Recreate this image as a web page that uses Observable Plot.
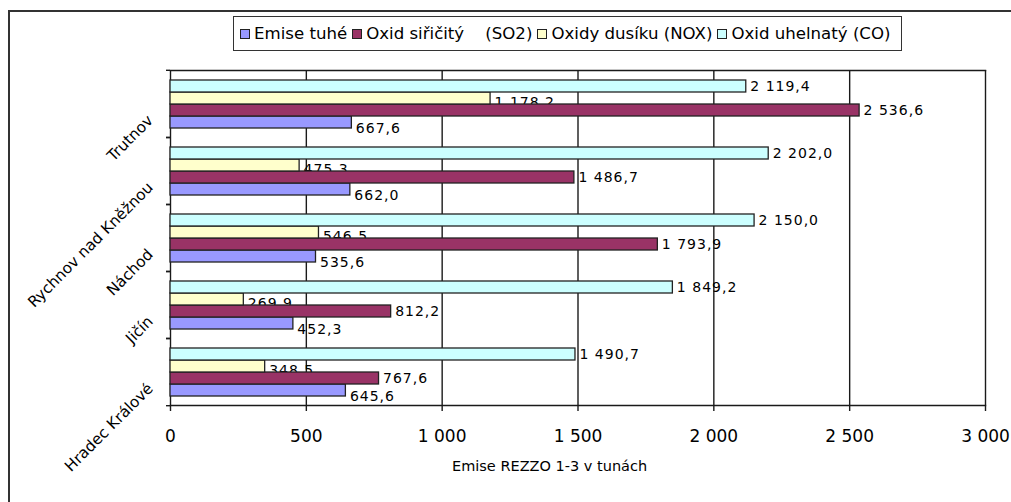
<!DOCTYPE html>
<html>
<head>
<meta charset="utf-8">
<script src="https://cdn.jsdelivr.net/npm/d3@7"></script>
<script src="https://cdn.jsdelivr.net/npm/@observablehq/plot@0.6"></script>
<style>
  html, body { margin: 0; padding: 0; background: #fff; overflow: hidden; }
  #wrap { position: relative; width: 1011px; height: 502px; font-family: "DejaVu Sans", sans-serif; color: #000; }
  #outer { position: absolute; left: 8px; top: 10px; width: 1100px; height: 600px; border-left: 2px solid #333; border-top: 2px solid #333; box-sizing: border-box; }
  #legend { position: absolute; left: 233px; top: 16px; width: 669px; height: 35px; box-sizing: border-box; border: 1.5px solid #333; display: flex; align-items: center; padding-left: 6px; font-size: 16.6px; white-space: pre; background: #fff; }
  .item { display: flex; align-items: center; margin-right: 5px; }
  .sw { width: 8px; height: 8px; border: 1.2px solid #222; margin-right: 4px; }
  #xtitle { position: absolute; left: 452px; top: 458px; font-size: 14.5px; white-space: pre; }
  #chart { position: absolute; left: 0; top: 0; }
  #chart g[aria-label="text"] text { letter-spacing: 1px; }
</style>
</head>
<body>
<div id="wrap">
  <div id="outer"></div>
  <div id="chart"></div>
  <div id="legend"></div>
  <div id="xtitle"></div>
</div>
<script>
// ---- data ----
const categories = ["Trutnov", "Rychnov nad Kněžnou", "Náchod", "Jičín", "Hradec Králové"];
const seriesNames = ["Emise tuhé", "Oxid siřičitý    (SO2)", "Oxidy dusíku (NOX)", "Oxid uhelnatý (CO)"];
const emiseTuhe = [667.6, 662.0, 535.6, 452.3, 645.6];
const oxidSiricity = [2536.6, 1486.7, 1793.9, 812.2, 767.6];
const oxidyDusiku = [1178.2, 475.3, 546.5, 269.9, 348.5];
const oxidUhelnaty = [2119.4, 2202.0, 2150.0, 1849.2, 1490.7];
const xTicks = [0, 500, 1000, 1500, 2000, 2500, 3000];
const xTitle = "Emise REZZO 1-3 v tunách";

// ---- styles ----
const colors = ["#9999FF", "#993366", "#FFFFCC", "#CCFFFF"];
const labelShift = [6, 0, 4, 0]; // vertical nudge of value labels per series

const seriesValues = [emiseTuhe, oxidSiricity, oxidyDusiku, oxidUhelnaty];
const rows = [];
categories.forEach((c, i) => {
  seriesNames.forEach((s, j) => rows.push({category: c, series: s, value: seriesValues[j][i], k: j}));
});

const loc = d3.formatLocale({decimal: ",", thousands: " ", grouping: [3], currency: ["", ""]});
const fmtInt = loc.format(",");
const fmtVal = loc.format(",.1f");

const W = 1011, H = 502, mL = 170, mR = 26, mT = 69, mB = 96;
const half = (H - mT - mB) / categories.length / 2;

const lab = (j) => Plot.text(rows.filter(d => d.k === j), {
  fy: "category", y: "series", x: "value",
  text: d => fmtVal(d.value), textAnchor: "start", dx: 4, dy: labelShift[j],
  fontSize: 14, fill: "#000"
});

const chart = Plot.plot({
  width: W, height: H,
  marginLeft: mL, marginRight: mR, marginTop: mT, marginBottom: mB,
  style: {fontFamily: "DejaVu Sans, sans-serif", background: "transparent", overflow: "visible", color: "#000"},
  x: {domain: [0, 3000]},
  y: {domain: seriesNames.slice().reverse(), paddingInner: 0, paddingOuter: 0.75, axis: null},
  fy: {domain: categories, padding: 0},
  color: {domain: seriesNames, range: colors},
  marks: [
    Plot.ruleX(xTicks, {stroke: "#1a1a1a", strokeWidth: 1.4}),
    Plot.frame({anchor: "top", facetAnchor: "top", stroke: "#1a1a1a", strokeWidth: 1.4}),
    lab(2),
    Plot.barX(rows, {fy: "category", y: "series", x: "value", fill: "series", stroke: "#222", strokeWidth: 1.3}),
    lab(0), lab(1), lab(3),
    Plot.frame({anchor: "bottom", facetAnchor: "bottom", stroke: "#1a1a1a", strokeWidth: 1.4}),
    Plot.axisX({ticks: xTicks, tickFormat: fmtInt, tickSize: 6, tickPadding: 18, fontSize: 17, label: null, stroke: "#1a1a1a", strokeWidth: 1.4}),
    Plot.axisFy({anchor: "left", tickSize: 4, fill: "none", label: null, dy: -half, stroke: "#1a1a1a", strokeWidth: 1.4}),
    Plot.axisFy({anchor: "left", tickSize: 4, fill: "none", label: null, dy: half, stroke: "#1a1a1a", strokeWidth: 1.4}),
    Plot.axisFy({anchor: "left", tickSize: 0, tickRotate: -45, tickPadding: 20, fontSize: 15.3, dy: 14, label: null})
  ]
});
document.getElementById("chart").appendChild(chart);

// legend
const legend = document.getElementById("legend");
seriesNames.forEach((s, j) => {
  const it = document.createElement("div");
  it.className = "item";
  const sw = document.createElement("div");
  sw.className = "sw";
  sw.style.background = colors[j];
  const t = document.createElement("span");
  t.textContent = s;
  it.appendChild(sw); it.appendChild(t);
  legend.appendChild(it);
});
document.getElementById("xtitle").textContent = xTitle;
</script>
</body>
</html>
